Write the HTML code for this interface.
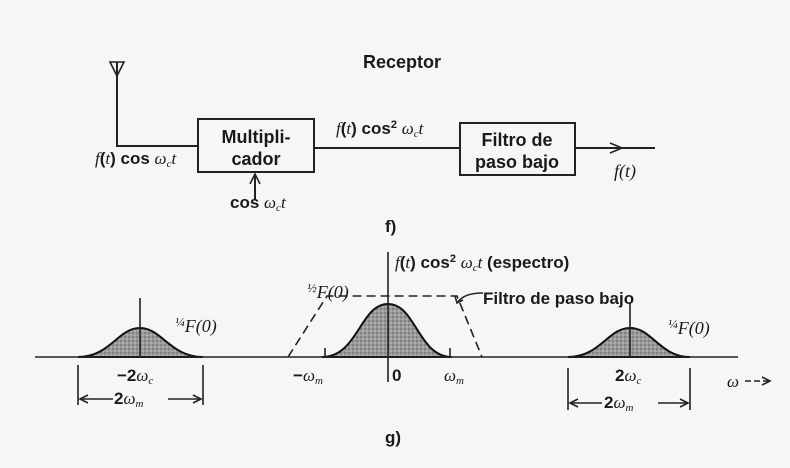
<!DOCTYPE html>
<html><head><meta charset="utf-8"><style>
html,body{margin:0;padding:0;background:#f6f6f4;}
svg{display:block;}
text{font-family:"Liberation Sans",sans-serif;font-weight:bold;fill:#1a1a1a;}
.i{font-family:"Liberation Serif",serif;font-style:italic;font-weight:normal;}
</style></head><body>
<svg width="790" height="468" viewBox="0 0 790 468" xmlns="http://www.w3.org/2000/svg">
<defs>
<pattern id="dots" width="4" height="4" patternUnits="userSpaceOnUse">
<rect width="4" height="4" fill="#9a9a9a"/><circle cx="1" cy="1" r="0.9" fill="#6e6e6e"/><circle cx="3" cy="3" r="0.9" fill="#b8b8b8"/>
</pattern>
</defs>
<rect width="790" height="468" fill="#f6f6f4"/>
<g stroke="#222" stroke-width="2" fill="none">
<path d="M110 62 L124 62 L117 76 Z" stroke-width="1.6"/>
<line x1="117" y1="62" x2="117" y2="146"/>
<line x1="116" y1="146" x2="198" y2="146"/>
<rect x="198" y="119" width="116" height="53"/>
<line x1="314" y1="148" x2="460" y2="148"/>
<rect x="460" y="123" width="115" height="52"/>
<line x1="575" y1="148" x2="655" y2="148"/>
<path d="M610 143 L622 148 L610 153" stroke-width="1.6"/>
<line x1="255" y1="200" x2="255" y2="175"/>
<path d="M250 184 L255 174 L260 184" stroke-width="1.6"/>
</g>
<text x="363" y="68" font-size="18">Receptor</text>
<text x="256" y="143" font-size="18" text-anchor="middle">Multipli-</text>
<text x="256" y="165" font-size="18" text-anchor="middle">cador</text>
<text x="517" y="146" font-size="18" text-anchor="middle">Filtro de</text>
<text x="517" y="168" font-size="18" text-anchor="middle">paso bajo</text>
<text x="95" y="164" font-size="17"><tspan class="i">f</tspan>(<tspan class="i">t</tspan>) cos <tspan class="i">ω</tspan><tspan font-size="11" dy="3" class="i">c</tspan><tspan dy="-3" class="i">t</tspan></text>
<text x="336" y="134" font-size="17"><tspan class="i">f</tspan>(<tspan class="i">t</tspan>) cos<tspan font-size="11" dy="-6">2</tspan><tspan dy="6"> </tspan><tspan class="i">ω</tspan><tspan font-size="11" dy="3" class="i">c</tspan><tspan dy="-3" class="i">t</tspan></text>
<text x="614" y="177" font-size="18" class="i">f(t)</text>
<text x="230" y="208" font-size="17">cos <tspan class="i">ω</tspan><tspan font-size="11" dy="3" class="i">c</tspan><tspan dy="-3" class="i">t</tspan></text>
<text x="385" y="232" font-size="17">f)</text>

<path d="M78 357 C110 357 118 328 140 328 C162 328 170 357 203 357 Z" fill="url(#dots)" stroke="#111" stroke-width="2"/>
<path d="M322 357 C358 357 360 304 388 304 C416 304 418 357 452 357 Z" fill="url(#dots)" stroke="#111" stroke-width="2"/>
<path d="M568 357 C600 357 608 328 630 328 C652 328 660 357 690 357 Z" fill="url(#dots)" stroke="#111" stroke-width="2"/>
<g stroke="#222" stroke-width="1.6" fill="none">
<line x1="35" y1="357" x2="738" y2="357"/>
<line x1="388" y1="252" x2="388" y2="382"/>
<line x1="140" y1="298" x2="140" y2="357"/>
<line x1="630" y1="303" x2="630" y2="357"/>
<line x1="325" y1="348" x2="325" y2="357"/>
<line x1="450" y1="348" x2="450" y2="357"/>
<path d="M288 357 L327 296 L457 296 L482 357" stroke-dasharray="9 5"/>
<path d="M483 293 C470 293 462 296 458 302"/>
<path d="M455 296 L457 303 L463 300"/>
<line x1="78" y1="365" x2="78" y2="405"/>
<line x1="203" y1="365" x2="203" y2="405"/>
<line x1="80" y1="399" x2="113" y2="399"/>
<line x1="168" y1="399" x2="201" y2="399"/>
<path d="M88 395 L80 399 L88 403 M193 395 L201 399 L193 403"/>
<line x1="568" y1="368" x2="568" y2="410"/>
<line x1="690" y1="368" x2="690" y2="410"/>
<line x1="570" y1="403" x2="602" y2="403"/>
<line x1="658" y1="403" x2="688" y2="403"/>
<path d="M578 399 L570 403 L578 407 M680 399 L688 403 L680 407"/>
<line x1="745" y1="381" x2="770" y2="381" stroke-dasharray="6 3"/>
<path d="M762 377 L770 381 L762 385"/>
</g>
<text x="395" y="268" font-size="17"><tspan class="i">f</tspan>(<tspan class="i">t</tspan>) cos<tspan font-size="11" dy="-6">2</tspan><tspan dy="6"> </tspan><tspan class="i">ω</tspan><tspan font-size="11" dy="3" class="i">c</tspan><tspan dy="-3" class="i">t</tspan> (espectro)</text>
<text x="483" y="304" font-size="17">Filtro de paso bajo</text>
<text x="307" y="298" font-size="18" class="i"><tspan font-size="13" dy="-6">½</tspan><tspan dy="6">F(0)</tspan></text>
<text x="175" y="332" font-size="18" class="i"><tspan font-size="13" dy="-6">¼</tspan><tspan dy="6">F(0)</tspan></text>
<text x="668" y="334" font-size="18" class="i"><tspan font-size="13" dy="-6">¼</tspan><tspan dy="6">F(0)</tspan></text>
<text x="117" y="381" font-size="17">−2<tspan class="i">ω</tspan><tspan font-size="11" dy="3" class="i">c</tspan></text>
<text x="293" y="381" font-size="17">−<tspan class="i">ω</tspan><tspan font-size="11" dy="3" class="i">m</tspan></text>
<text x="392" y="381" font-size="17">0</text>
<text x="444" y="381" font-size="17" class="i">ω<tspan font-size="11" dy="3">m</tspan></text>
<text x="615" y="381" font-size="17">2<tspan class="i">ω</tspan><tspan font-size="11" dy="3" class="i">c</tspan></text>
<text x="727" y="387" font-size="17" class="i">ω</text>
<text x="114" y="404" font-size="17">2<tspan class="i">ω</tspan><tspan font-size="11" dy="3" class="i">m</tspan></text>
<text x="604" y="408" font-size="17">2<tspan class="i">ω</tspan><tspan font-size="11" dy="3" class="i">m</tspan></text>
<text x="385" y="443" font-size="17">g)</text>
</svg>
</body></html>
